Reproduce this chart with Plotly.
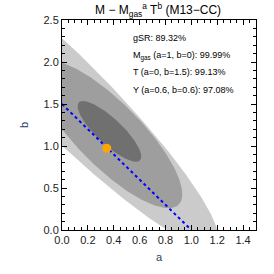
import numpy as np
import plotly.graph_objects as go

# Confidence regions (ellipses in data units): centre, semi-major vector, semi-minor vector
region_names = ["outer", "middle", "inner"]
region_colors = ["#cbcbcb", "#9e9e9e", "#707070"]
center_a = [0.000, 0.363, 0.367]
center_b = [1.647, 1.140, 1.174]
major_da = [1.192, 0.538, 0.236]
major_db = [-1.832, -0.840, -0.345]
minor_da = [0.216, 0.180, 0.070]
minor_db = [0.321, 0.262, 0.109]

# Line between the M_gas (a=1,b=0) and T (a=0,b=1.5) models
line_a = [0.0, 1.0]
line_b = [1.5, 0.0]

# Best fit
best_a = [0.346]
best_b = [0.973]

title_text = "M \u2212 M<sub>gas</sub><sup>a</sup> T<sup>b</sup> (M13\u2212CC)"
notes = [
    "gSR: 89.32%",
    "M<sub>gas</sub> (a=1, b=0): 99.99%",
    "T (a=0, b=1.5): 99.13%",
    "Y (a=0.6, b=0.6): 97.08%",
]
notes_y = [0.916, 0.827, 0.752, 0.668]

x_ticks = [0.0, 0.2, 0.4, 0.6, 0.8, 1.0, 1.2, 1.4]
y_ticks = [0.0, 0.5, 1.0, 1.5, 2.0, 2.5]

fig = go.Figure()
t = np.linspace(0, 2 * np.pi, 361)
for i in range(3):
    xs = center_a[i] + major_da[i] * np.cos(t) + minor_da[i] * np.sin(t)
    ys = center_b[i] + major_db[i] * np.cos(t) + minor_db[i] * np.sin(t)
    fig.add_trace(go.Scatter(x=xs, y=ys, mode="lines", fill="toself",
                             fillcolor=region_colors[i], line=dict(width=0),
                             name=region_names[i], hoverinfo="skip"))

fig.add_trace(go.Scatter(x=line_a, y=line_b, mode="lines",
                         line=dict(color="#0000ff", width=2, dash="dot")))
fig.add_trace(go.Scatter(x=best_a, y=best_b, mode="markers",
                         marker=dict(color="#ffa500", size=9, line=dict(width=0))))

font_family = "Liberation Sans, Arial, sans-serif"
for txt, yy in zip(notes, notes_y):
    fig.add_annotation(text=txt, xref="paper", yref="paper", x=0.355, y=yy,
                       xanchor="left", yanchor="middle", showarrow=False,
                       font=dict(size=9, color="#000000", family=font_family))

axis_common = dict(showline=True, linecolor="#000000", linewidth=1, mirror="ticks",
                   ticks="inside", ticklen=5, tickwidth=1, tickcolor="#000000",
                   showgrid=False, zeroline=False,
                   tickfont=dict(size=11, color="#222222", family=font_family))

fig.update_layout(
    width=274, height=274,
    margin=dict(l=62, r=18, t=20, b=40),
    paper_bgcolor="#ffffff", plot_bgcolor="#ffffff",
    showlegend=False,
    title=dict(text=title_text, x=0.577, xanchor="center", y=0.963, yanchor="middle",
               font=dict(size=12, color="#000000", family=font_family)),
    xaxis=dict(range=[0, 1.5], tickvals=x_ticks, ticktext=[f"{v:.1f}" for v in x_ticks],
               minor=dict(dtick=0.05, ticks="inside", ticklen=3, tickcolor="#000000"),
               title=dict(text="a", standoff=8, font=dict(size=11, family=font_family)),
               **axis_common),
    yaxis=dict(range=[0, 2.5], tickvals=y_ticks, ticktext=[f"{v:.1f}" for v in y_ticks],
               minor=dict(dtick=0.1, ticks="inside", ticklen=3, tickcolor="#000000"),
               title=dict(text="b", standoff=12, font=dict(size=11, family=font_family)),
               **axis_common),
)

fig.write_html("out.html", config={"displayModeBar": False},
               post_script="document.body.style.margin='0px';")
